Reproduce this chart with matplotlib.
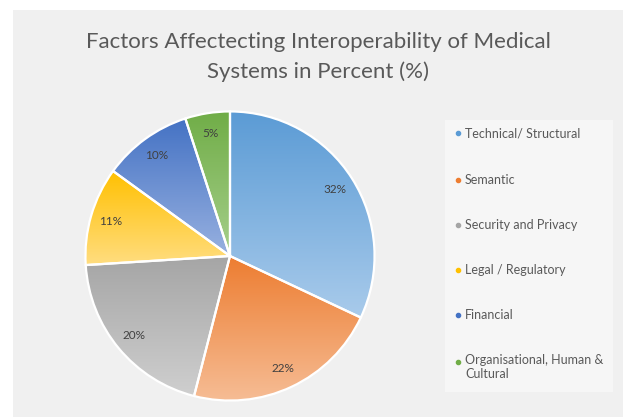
import numpy as np
import matplotlib
matplotlib.use("Agg")
import matplotlib.pyplot as plt
from matplotlib.colors import LinearSegmentedColormap
from matplotlib.patches import Rectangle

categories = ["Technical/ Structural", "Semantic", "Security and Privacy",
              "Legal / Regulatory", "Financial", "Organisational, Human &\nCultural"]
values = [32, 22, 20, 11, 10, 5]
dark_colors = ["#5B9BD5", "#ED7D31", "#A5A5A5", "#FFC000", "#4472C4", "#70AD47"]
light_colors = ["#A9CBEB", "#F6BE97", "#CFCFCF", "#FFDD80", "#98B1E0", "#A6CF8B"]
title = "Factors Affectecting Interoperability of Medical\nSystems in Percent (%)"

plt.rcParams['font.family'] = ['Lato', 'DejaVu Sans']

W, H = 623, 417
fig = plt.figure(figsize=(W / 100, H / 100), dpi=100)
fig.patch.set_facecolor("white")

# chart area background
fig.add_artist(Rectangle((13 / W, 0), 1, 1 - 10 / H, transform=fig.transFigure,
                         facecolor="#F0F0F0", edgecolor="none", zorder=0))
# legend area background
fig.add_artist(Rectangle((445 / W, 1 - 392 / H), (613 - 445) / W, (392 - 120) / H,
                         transform=fig.transFigure, facecolor="#F6F6F6",
                         edgecolor="none", zorder=0))

fig.text(318 / W, 1 - 57 / H, title, ha="center", va="center", fontsize=16,
         color="#595959", linespacing=1.55)

cx, cy, r = 230, 256, 146
ax = fig.add_axes([(cx - r) / W, (H - cy - r) / H, 2 * r / W, 2 * r / H])
ax.set_facecolor("none")

wedges, texts, autotexts = ax.pie(
    values, startangle=90, counterclock=False, colors=dark_colors,
    autopct="%1.0f%%", pctdistance=0.86,
    wedgeprops=dict(edgecolor="none", linewidth=0),
    textprops=dict(color="#404040", fontsize=8.5))

# gradient fill per wedge (vertical: darker top, lighter bottom)
for w, c0, c1 in zip(wedges, dark_colors, light_colors):
    pts = w.get_patch_transform().transform(w.get_path().vertices)
    x0, x1 = pts[:, 0].min(), pts[:, 0].max()
    y0, y1 = pts[:, 1].min(), pts[:, 1].max()
    cmap = LinearSegmentedColormap.from_list("g", [c1, c0])
    grad = np.linspace(0, 1, 256).reshape(-1, 1)
    im = ax.imshow(grad, cmap=cmap, extent=[x0, x1, y0, y1], origin="lower",
                   aspect="auto", zorder=1, interpolation="bilinear")
    im.set_clip_path(w)
    w.set_facecolor("none")

# white edges on top
for v in ax.pie(values, startangle=90, counterclock=False,
                wedgeprops=dict(facecolor="none", edgecolor="white", linewidth=1.6))[0]:
    v.set_zorder(2)
for t in autotexts:
    t.set_zorder(3)
ax.set_xlim(-1.01, 1.01)
ax.set_ylim(-1.01, 1.01)
ax.set_aspect("auto")
ax.axis("off")

# legend
leg_y = [133, 180, 225, 270, 315, 362]
for lab, col, yy in zip(categories, dark_colors, leg_y):
    fig.add_artist(plt.Line2D([458 / W], [1 - yy / H], marker="o", markersize=3,
                              color=col, linestyle="none", transform=fig.transFigure))
    if "\n" in lab:
        fig.text(465 / W, 1 - (yy - 8) / H, lab, ha="left", va="top",
                 fontsize=9, color="#595959", linespacing=1.25)
    else:
        fig.text(465 / W, 1 - yy / H, lab, ha="left", va="center",
                 fontsize=9, color="#595959")

fig.savefig("out.png", dpi=100)
